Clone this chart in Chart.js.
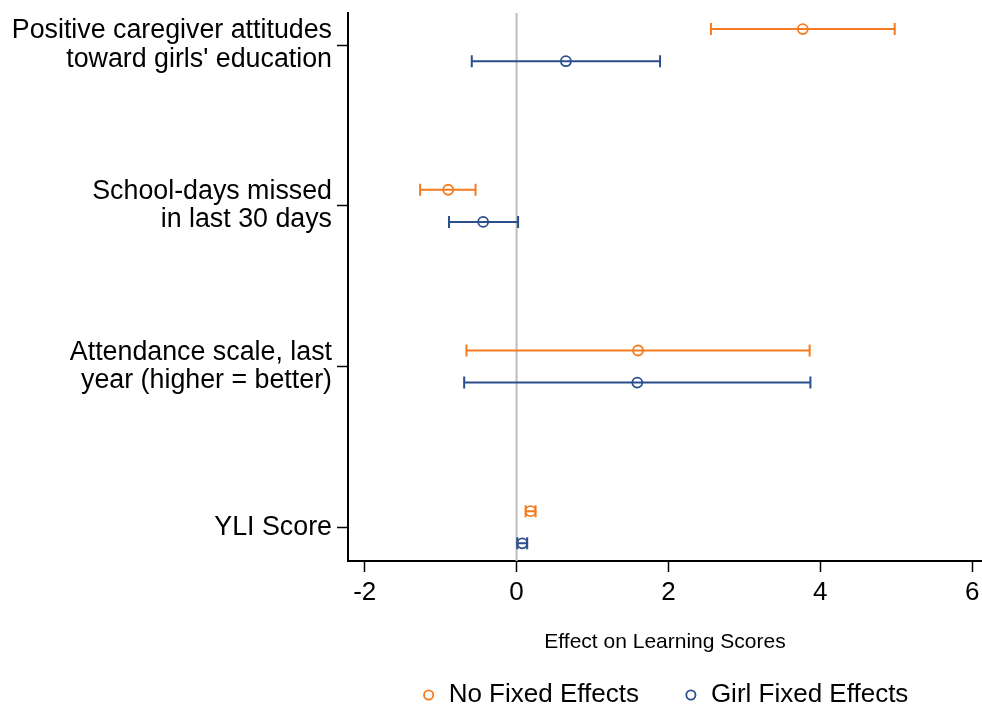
<!DOCTYPE html>
<html>
<head>
<meta charset="utf-8">
<script src="https://cdn.jsdelivr.net/npm/chart.js@4"></script>
<style>
  html, body { margin: 0; padding: 0; background: #fff; }
  #wrap { width: 982px; height: 706px; }
</style>
</head>
<body>
<div id="wrap"><canvas id="chart"></canvas></div>
<script>
// outcomes (top to bottom)
const outcomes = [
  ['Positive caregiver attitudes', "toward girls' education"],
  ['School-days missed', 'in last 30 days'],
  ['Attendance scale, last', 'year (higher = better)'],
  ['YLI Score']
];

// No Fixed Effects: point estimate and CI bounds
const noFeEst = [3.77, -0.90, 1.60, 0.185];
const noFeLo  = [2.56, -1.27, -0.66, 0.12];
const noFeHi  = [4.98, -0.54, 3.86, 0.25];

// Girl Fixed Effects
const girlFeEst = [0.65, -0.44, 1.59, 0.075];
const girlFeLo  = [-0.59, -0.89, -0.69, 0.01];
const girlFeHi  = [1.89, 0.02, 3.87, 0.14];

const xTicks = [-2, 0, 2, 4, 6];

const ORANGE = '#f47b20';
const BLUE = '#2b4e8c';
const FONT = "'Liberation Sans', Arial, sans-serif";

// rows: outcome index, orange sits a bit above, blue a bit below
function buildPoints(est, lo, hi, shift) {
  return est.map((v, i) => ({ x: v, y: i + shift, lo: lo[i], hi: hi[i] }));
}

// zero line + error bars drawn through the chart scales
const errorBars = {
  id: 'errorBars',
  beforeDatasetsDraw(chart) {
    const ctx = chart.ctx;
    const xs = chart.scales.x, ys = chart.scales.y;
    const area = chart.chartArea;
    ctx.save();
    // vertical reference line at 0
    const x0 = xs.getPixelForValue(0);
    ctx.strokeStyle = '#bdbdbd';
    ctx.lineWidth = 2;
    ctx.beginPath();
    ctx.moveTo(x0, area.top);
    ctx.lineTo(x0, area.bottom);
    ctx.stroke();

    chart.data.datasets.forEach(ds => {
      ctx.strokeStyle = ds.borderColor;
      ctx.lineWidth = 2;
      ds.data.forEach(p => {
        const y = ys.getPixelForValue(p.y);
        const a = xs.getPixelForValue(p.lo);
        const b = xs.getPixelForValue(p.hi);
        ctx.beginPath();
        ctx.moveTo(a, y); ctx.lineTo(b, y);
        ctx.moveTo(a, y - 6); ctx.lineTo(a, y + 6);
        ctx.moveTo(b, y - 6); ctx.lineTo(b, y + 6);
        ctx.stroke();
      });
    });
    ctx.restore();
  }
};

new Chart(document.getElementById('chart'), {
  type: 'scatter',
  data: {
    datasets: [
      {
        label: 'No Fixed Effects',
        data: buildPoints(noFeEst, noFeLo, noFeHi, -0.1),
        borderColor: ORANGE,
        backgroundColor: 'rgba(0,0,0,0)',
        pointRadius: 5,
        pointBorderWidth: 1.8,
        pointStyle: 'circle'
      },
      {
        label: 'Girl Fixed Effects',
        data: buildPoints(girlFeEst, girlFeLo, girlFeHi, 0.1),
        borderColor: BLUE,
        backgroundColor: 'rgba(0,0,0,0)',
        pointRadius: 5,
        pointBorderWidth: 1.8,
        pointStyle: 'circle'
      }
    ]
  },
  options: {
    responsive: true,
    maintainAspectRatio: false,
    animation: false,
    layout: { autoPadding: false, padding: { top: 13, right: 0, left: 0, bottom: -12 } },
    plugins: {
      tooltip: { enabled: false },
      legend: {
        position: 'bottom',
        fullSize: false,
        labels: {
          usePointStyle: true,
          boxWidth: 14,
          boxHeight: 6.5,
          padding: 45,
          color: '#000',
          font: { family: FONT, size: 26 }
        }
      }
    },
    scales: {
      x: {
        type: 'linear',
        min: -2.22,
        max: 6.13,
        afterBuildTicks(scale) { scale.ticks = xTicks.map(v => ({ value: v })); },
        afterFit(scale) {
          scale.height = 76;
          scale.paddingLeft = 0;
          scale.paddingRight = 0;
        },
        ticks: { color: '#000', font: { family: FONT, size: 26 }, padding: 5, maxRotation: 0 },
        grid: { drawOnChartArea: false, drawTicks: true, tickLength: 11, tickColor: '#000', tickWidth: 1.5 },
        border: { display: true, color: '#000', width: 2 },
        title: { display: true, text: 'Effect on Learning Scores', color: '#000', font: { family: FONT, size: 21 }, padding: { top: 0, bottom: -17.6 } }
      },
      y: {
        type: 'linear',
        reverse: true,
        min: -0.2,
        max: 3.21,
        afterBuildTicks(scale) { scale.ticks = outcomes.map((o, i) => ({ value: i })); },
        afterFit(scale) {
          scale.width = 348;
          scale.paddingTop = 0;
          scale.paddingBottom = 0;
        },
        ticks: {
          color: '#000',
          font: { family: FONT, size: 26.8, lineHeight: 1.06 },
          padding: 5,
          callback: v => outcomes[v]
        },
        grid: { drawOnChartArea: false, drawTicks: true, tickLength: 11, tickColor: '#000', tickWidth: 1.5 },
        border: { display: true, color: '#000', width: 2 }
      }
    }
  },
  plugins: [errorBars]
});
</script>
</body>
</html>
